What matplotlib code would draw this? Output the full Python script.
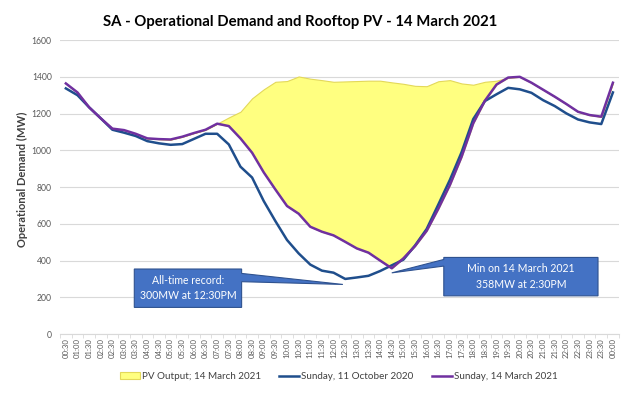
import matplotlib
matplotlib.use('Agg')
import matplotlib.pyplot as plt
import numpy as np
from matplotlib.patches import Polygon, Patch
from matplotlib.lines import Line2D

plt.rcParams['font.family'] = ['Lato', 'DejaVu Sans']

# half-hour periods, 00:30 through to 00:00 next day
times = [f"{(k // 2) % 24:02d}:{(k % 2) * 30:02d}" for k in range(1, 49)]

# Sunday, 11 October 2020 (MW)
oct_2020 = [1337, 1300, 1234, 1174, 1112, 1096, 1078, 1050, 1038, 1030, 1034, 1062,
            1090, 1090, 1032, 911, 852, 724, 615, 512, 439, 378, 345, 334,
            300, 308, 317, 343, 374, 405, 482, 572, 705, 840, 990, 1170,
            1268, 1305, 1340, 1332, 1313, 1273, 1241, 1201, 1168, 1152, 1143, 1315]

# Sunday, 14 March 2021 (MW)
mar_2021 = [1364, 1315, 1234, 1174, 1118, 1110, 1090, 1065, 1061, 1059, 1074, 1094,
            1112, 1145, 1132, 1065, 987, 880, 787, 697, 655, 584, 557, 537,
            502, 466, 443, 400, 358, 412, 479, 562, 682, 812, 965, 1147,
            1270, 1358, 1396, 1400, 1368, 1330, 1292, 1252, 1210, 1192, 1183, 1368]

# rooftop PV output, 14 March 2021 (MW), stacked on top of demand
pv_2021 = [0, 0, 0, 0, 0, 0, 0, 0, 0, 0, 0, 0,
           0, 0, 47, 145, 296, 452, 586, 680, 747, 806, 825, 836,
           873, 911, 936, 979, 1012, 950, 872, 787, 694, 570, 399, 210,
           103, 21, 0, 0, 0, 0, 0, 0, 0, 0, 0, 0]

x = np.arange(len(times))
oct_a = np.array(oct_2020)
mar_a = np.array(mar_2021)
pv_a = np.array(pv_2021)

BLUE = '#1F4E8C'
PURPLE = '#7030A0'
YELLOW = '#FFFF80'
YELLOW_EDGE = '#E3D85A'
BOX = '#4472C4'
BOX_EDGE = '#2F528F'
GREY = '#595959'

fig = plt.figure(figsize=(6.32, 3.93), dpi=100)
ax = fig.add_axes([0.095, 0.150, 0.884, 0.748])

ax.fill_between(x, mar_a, mar_a + pv_a, facecolor=YELLOW, edgecolor=YELLOW_EDGE,
                linewidth=0.8, zorder=2)
ax.plot(x, oct_a, color=BLUE, lw=1.8, zorder=3)
ax.plot(x, mar_a, color=PURPLE, lw=1.8, zorder=4)

ax.set_xlim(-0.5, len(times) - 0.5)
ax.set_ylim(0, 1600)
ax.set_yticks(np.arange(0, 1601, 200))
ax.yaxis.grid(True, color='#D9D9D9', lw=0.8, zorder=0)
ax.set_axisbelow(True)
ax.tick_params(axis='y', length=0, labelsize=6.2, labelcolor=GREY, pad=6)
ax.set_xticks(x)
ax.set_xticklabels(times, rotation=90, fontsize=5.6, color=GREY)
ax.set_xticks(np.arange(-0.5, len(times), 1), minor=True)
ax.tick_params(axis='x', which='major', length=0, pad=3)
ax.tick_params(axis='x', which='minor', length=3, color='#D9D9D9')
for s in ['top', 'right', 'left']:
    ax.spines[s].set_visible(False)
ax.spines['bottom'].set_color('#D9D9D9')

fig.text(0.475, 0.945, 'SA - Operational Demand and Rooftop PV - 14 March 2021',
         ha='center', va='center', fontsize=10.7, fontweight='bold')
fig.text(0.0353, 0.545, 'Operational Demand (MW)', rotation=90, ha='center',
         va='center', fontsize=8, fontweight='bold', color='#404040')


def callout(x0, x1, y0, y1, side, wlo, whi, tip, text):
    if side == 'right':
        verts = [(x0, y0), (x1, y0), (x1, wlo), tip, (x1, whi), (x1, y1), (x0, y1)]
    else:
        verts = [(x0, y0), (x1, y0), (x1, y1), (x0, y1), (x0, whi), tip, (x0, wlo)]
    ax.add_patch(Polygon(verts, closed=True, facecolor=BOX, edgecolor=BOX_EDGE,
                         lw=0.8, zorder=6, clip_on=False))
    ax.text((x0 + x1) / 2, (y0 + y1) / 2, text, ha='center', va='center',
            color='white', fontsize=7.6, zorder=7, linespacing=1.5)


rec = int(np.argmin(oct_a))
low = int(np.argmin(mar_a))
callout(5.88, 15.10, 145, 354, 'right', 285, 330,
        (rec - 0.2, oct_a[rec] - 30),
        'All-time record:\n%dMW at 12:30PM' % oct_a[rec])
callout(32.47, 45.72, 208, 417, 'left', 370, 406,
        (low, mar_a[low] - 25),
        'Min on 14 March 2021\n%dMW at 2:30PM' % mar_a[low])

handles = [Patch(facecolor=YELLOW, edgecolor=YELLOW_EDGE, lw=0.8),
           Line2D([], [], color=BLUE, lw=1.8),
           Line2D([], [], color=PURPLE, lw=1.8)]
labels = ['PV Output; 14 March 2021', 'Sunday, 11 October 2020', 'Sunday, 14 March 2021']
fig.legend(handles, labels, loc='center', bbox_to_anchor=(0.536, 0.042), ncol=3,
           frameon=False, fontsize=7.1, handlelength=2.0, handleheight=0.7,
           handletextpad=0.2, columnspacing=1.9, labelcolor='#404040')

fig.savefig('out.png', dpi=100)
